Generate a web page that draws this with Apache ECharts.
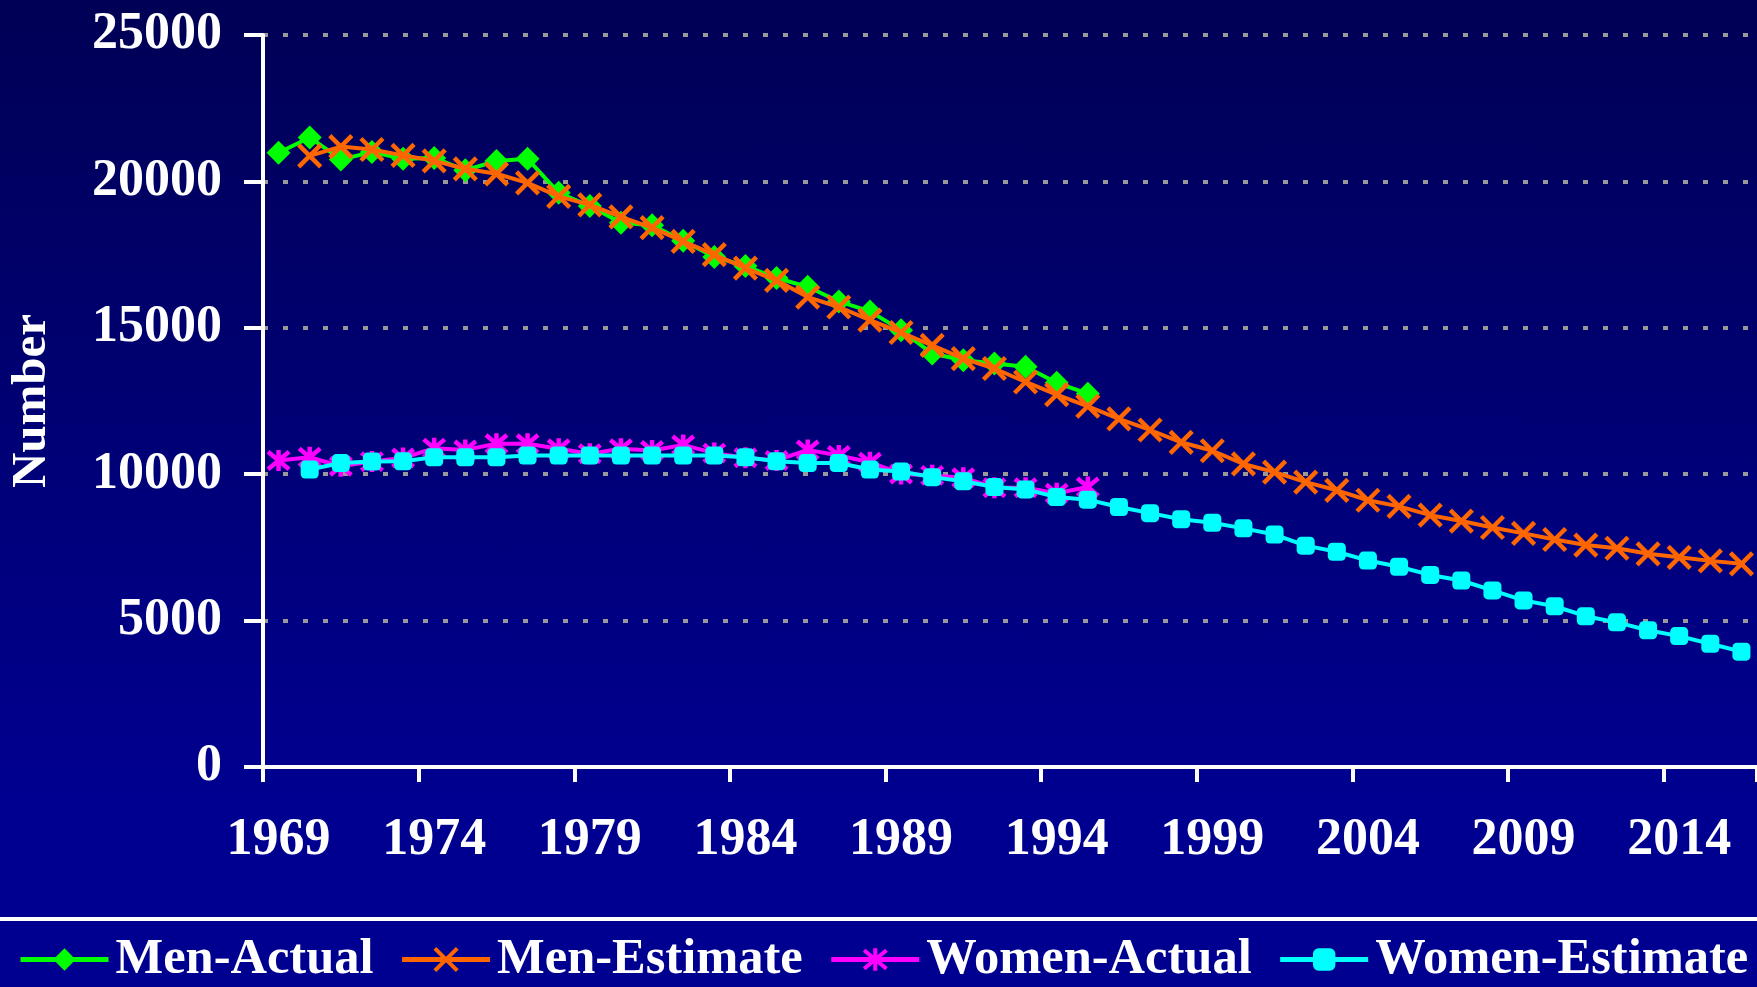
<!DOCTYPE html>
<html>
<head>
<meta charset="utf-8">
<script src="https://cdn.jsdelivr.net/npm/echarts@6.0.0/dist/echarts.min.js"></script>
<style>
  html, body { margin: 0; padding: 0; }
  body {
    width: 1757px; height: 987px; overflow: hidden;
    background: linear-gradient(to bottom, #000055 0px, #000090 800px, #000090 987px);
  }
  #chart { width: 1757px; height: 987px; }
</style>
</head>
<body>
<div id="chart"></div>
<script>
// years on the category axis
var years = [1969, 1970, 1971, 1972, 1973, 1974, 1975, 1976, 1977, 1978,
  1979, 1980, 1981, 1982, 1983, 1984, 1985, 1986, 1987, 1988,
  1989, 1990, 1991, 1992, 1993, 1994, 1995, 1996, 1997, 1998,
  1999, 2000, 2001, 2002, 2003, 2004, 2005, 2006, 2007, 2008,
  2009, 2010, 2011, 2012, 2013, 2014, 2015, 2016];

var yTicks = [0, 5000, 10000, 15000, 20000, 25000];

var menActual = [20980, 21500, 20750, 21000, 20770, 20800, 20380, 20700, 20770, 19610,
  19160, 18590, 18500, 17970, 17420, 17110, 16700, 16400, 15900, 15560,
  14920, 14120, 13890, 13780, 13670, 13120, 12750, null, null, null,
  null, null, null, null, null, null, null, null, null, null,
  null, null, null, null, null, null, null, null];

var menEstimate = [null, 20870, 21190, 21090, 20890, 20700, 20430, 20260, 19950, 19490,
  19200, 18790, 18420, 17950, 17500, 17040, 16620, 16050, 15710, 15260,
  14840, 14400, 13950, 13610, 13150, 12720, 12320, 11890, 11510, 11090,
  10800, 10350, 10070, 9730, 9450, 9110, 8900, 8600, 8400, 8180,
  7980, 7770, 7580, 7470, 7280, 7160, 7040, 6940];

var womenActual = [10470, 10580, 10270, 10430, 10550, 10890, 10830, 11040, 11040, 10870,
  10700, 10870, 10810, 11000, 10720, 10560, 10470, 10830, 10640, 10410,
  10010, 9960, 9880, 9540, 9540, 9350, 9560, null, null, null,
  null, null, null, null, null, null, null, null, null, null,
  null, null, null, null, null, null, null, null];

var womenEstimate = [null, 10160, 10380, 10430, 10440, 10580, 10580, 10580, 10640, 10640,
  10640, 10640, 10640, 10640, 10640, 10580, 10440, 10380, 10380, 10160,
  10090, 9900, 9760, 9560, 9480, 9220, 9130, 8880, 8670, 8460,
  8340, 8150, 7940, 7560, 7350, 7050, 6840, 6560, 6370, 6030,
  5690, 5490, 5150, 4940, 4670, 4470, 4210, 3940];

var FONT = '"Liberation Serif", "Times New Roman", serif';
var xPath = 'path://M0,0L10,10M10,0L0,10';
var starPath = 'path://M0,0L10,10M10,0L0,10M5,-1L5,11';

var myChart = echarts.init(document.getElementById('chart'), null, { renderer: 'canvas' });

var option = {
  backgroundColor: 'transparent',
  animation: false,
  grid: { left: 263, top: 35, right: -8, bottom: 220, containLabel: false },
  legend: {
    left: 13,
    top: 929,
    width: 1800,
    itemWidth: 88,
    itemHeight: 28,
    itemGap: 26,
    lineStyle: { width: 5 },
    textStyle: {
      color: '#ffffff', fontFamily: FONT, fontWeight: 'bold', fontSize: 50.5,
      padding: [0, 0, 0, 2]
    },
    data: [
      { name: 'Men-Actual' },
      { name: 'Men-Estimate', itemStyle: { borderWidth: 4 } },
      { name: 'Women-Actual', itemStyle: { borderWidth: 4 } },
      { name: 'Women-Estimate' }
    ]
  },
  graphic: [{
    type: 'rect', left: 0, top: 917,
    shape: { width: 1757, height: 4 },
    style: { fill: '#ffffff' }, silent: true
  }],
  xAxis: {
    type: 'category',
    data: years,
    boundaryGap: true,
    axisLine: { show: true, lineStyle: { color: '#ffffff', width: 4 } },
    axisTick: { show: true, interval: 4, length: 15, lineStyle: { color: '#ffffff', width: 4 } },
    axisLabel: {
      interval: 4, margin: 48, color: '#ffffff',
      fontFamily: FONT, fontWeight: 'bold', fontSize: 52
    },
    splitLine: { show: false }
  },
  yAxis: {
    type: 'value',
    min: yTicks[0],
    max: yTicks[yTicks.length - 1],
    interval: 5000,
    name: 'Number',
    nameLocation: 'middle',
    nameGap: 206,
    nameTextStyle: { color: '#ffffff', fontFamily: FONT, fontWeight: 'bold', fontSize: 49 },
    axisLine: { show: true, lineStyle: { color: '#ffffff', width: 4 } },
    axisTick: { show: true, length: 19, lineStyle: { color: '#ffffff', width: 4 } },
    axisLabel: {
      margin: 41, color: '#ffffff',
      fontFamily: FONT, fontWeight: 'bold', fontSize: 52,
      formatter: function (v) { return String(v); }
    },
    splitLine: {
      show: true,
      lineStyle: { color: '#999999', width: 4, type: [5, 15] }
    }
  },
  series: [
    {
      name: 'Men-Actual',
      type: 'line',
      data: menActual,
      showAllSymbol: true,
      symbol: 'diamond',
      symbolSize: 24,
      lineStyle: { color: '#00ff00', width: 4 },
      itemStyle: { color: '#00ff00', borderWidth: 0 },
      z: 2
    },
    {
      name: 'Men-Estimate',
      type: 'line',
      data: menEstimate,
      showAllSymbol: true,
      symbol: xPath,
      symbolSize: 22,
      lineStyle: { color: '#ff6600', width: 4 },
      itemStyle: { color: 'none', borderColor: '#ff6600', borderWidth: 4.5 },
      z: 3
    },
    {
      name: 'Women-Actual',
      type: 'line',
      data: womenActual,
      showAllSymbol: true,
      symbol: starPath,
      symbolSize: 21,
      lineStyle: { color: '#ff00ff', width: 4 },
      itemStyle: { color: 'none', borderColor: '#ff00ff', borderWidth: 4.5 },
      z: 2
    },
    {
      name: 'Women-Estimate',
      type: 'line',
      data: womenEstimate,
      showAllSymbol: true,
      symbol: 'roundRect',
      symbolSize: 18,
      lineStyle: { color: '#00ffff', width: 4 },
      itemStyle: { color: '#00ffff', borderWidth: 0 },
      z: 3
    }
  ]
};

myChart.setOption(option);
</script>
</body>
</html>
